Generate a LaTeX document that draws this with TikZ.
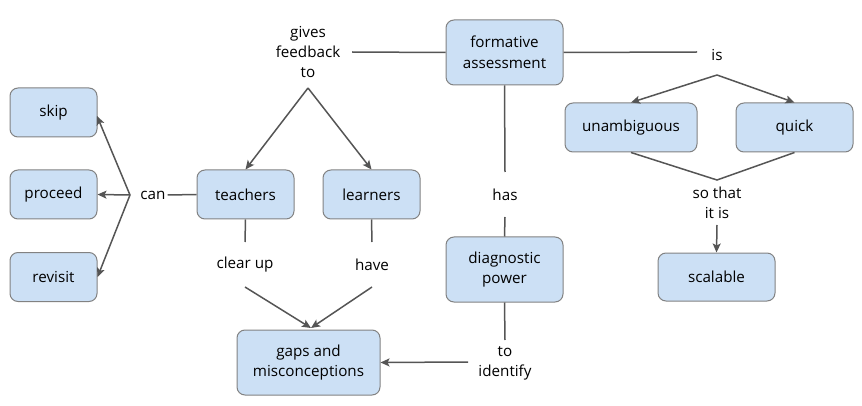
\documentclass[tikz,border=0pt]{standalone}
\usepackage{fontspec}
\setmainfont[Ligatures=NoCommon]{Open Sans}
\usetikzlibrary{arrows.meta}
\definecolor{boxfill}{RGB}{204,224,245}
\definecolor{boxline}{RGB}{130,130,130}
\definecolor{conn}{RGB}{85,85,85}
\begin{document}
\begin{tikzpicture}[x=1pt,y=-1pt,
  concept/.style={draw=boxline, fill=boxfill, rounded corners=8pt, line width=1pt,
    align=center, inner sep=2pt, font=\fontsize{15.2}{20.5}\selectfont},
  lbl/.style={align=center, inner sep=2pt, font=\fontsize{15.2}{20}\selectfont},
  link/.style={draw=conn, line width=1.5pt},
  arr/.style={link, -{Stealth[length=9pt,width=8pt,inset=2pt]}}]
\useasboundingbox (0,0) rectangle (862,406);
% concepts
\node[concept, minimum width=87pt, minimum height=49pt] (skip) at (53.5,112.5) {skip};
\node[concept, minimum width=87pt, minimum height=49pt] (proc) at (53.5,194.5) {proceed};
\node[concept, minimum width=87pt, minimum height=49pt] (rev) at (53.5,277) {revisit};
\node[concept, minimum width=97pt, minimum height=49pt] (teach) at (245.5,194.5) {teachers};
\node[concept, minimum width=97pt, minimum height=49pt] (learn) at (371.5,194.5) {learners};
\node[concept, minimum width=117pt, minimum height=65pt] (fa) at (504.5,52.5) {formative\\assessment};
\node[concept, minimum width=132pt, minimum height=49pt] (unamb) at (631,127.5) {unambiguous};
\node[concept, minimum width=117pt, minimum height=49pt] (quick) at (794.5,127.5) {quick};
\node[concept, minimum width=117pt, minimum height=48pt] (scal) at (716.5,277) {scalable};
\node[concept, minimum width=117pt, minimum height=65pt] (diag) at (504.5,269.5) {diagnostic\\power};
\node[concept, minimum width=143pt, minimum height=65pt] (gaps) at (308.5,362.5) {gaps and\\misconceptions};
% labels
\node[lbl] (can) at (153,195) {can};
\node[lbl] (gft) at (308,52) {gives\\feedback\\to};
\node[lbl] (is) at (717,55) {is};
\node[lbl] (sot) at (717,203) {so that\\it is};
\node[lbl] (has) at (505,195) {has};
\node[lbl] (toid) at (505,363) {to\\identify};
\node[lbl] (clear) at (245,265) {clear up};
\node[lbl] (have) at (372,265) {have};
% branch points
\coordinate (canb) at (130,195);
\coordinate (gftb) at (308,88);
\coordinate (isb) at (717,75);
\coordinate (sotb) at (717,180);
\coordinate (isl) at (697,52);
\coordinate (gftr) at (352,52);
\coordinate (hast) at (505,172);
\coordinate (hasb) at (505,217);
\coordinate (toidt) at (505,340);
\coordinate (toidl) at (468,362);
\coordinate (sotd) at (717,225);
\coordinate (clt) at (245,242);
\coordinate (clb) at (245,287);
\coordinate (hvt) at (372,242);
\coordinate (hvb) at (372,287);
\coordinate (gapin) at (311,328);
\coordinate (skipin) at (97,116);
% connectors
\draw[arr] (canb) -- (skipin);
\draw[arr] (canb) -- (proc.east);
\draw[arr] (canb) -- (rev.east);
\draw[link] (can.east) -- (teach.west);
\draw[link] (fa.west) -- (gftr);
\draw[arr] (gftb) -- (teach.north);
\draw[arr] (gftb) -- (learn.north);
\draw[link] (fa.east) -- (isl);
\draw[arr] (isb) -- (unamb.north);
\draw[arr] (isb) -- (quick.north);
\draw[link] (unamb.south) -- (sotb) -- (quick.south);
\draw[arr] (sotd) -- (scal.north);
\draw[link] (fa.south) -- (hast);
\draw[link] (hasb) -- (diag.north);
\draw[link] (diag.south) -- (toidt);
\draw[arr] (toidl) -- (gaps.east);
\draw[link] (teach.south) -- (clt);
\draw[arr] (clb) -- (gapin);
\draw[link] (learn.south) -- (hvt);
\draw[arr] (hvb) -- (gapin);
\end{tikzpicture}
\end{document}
